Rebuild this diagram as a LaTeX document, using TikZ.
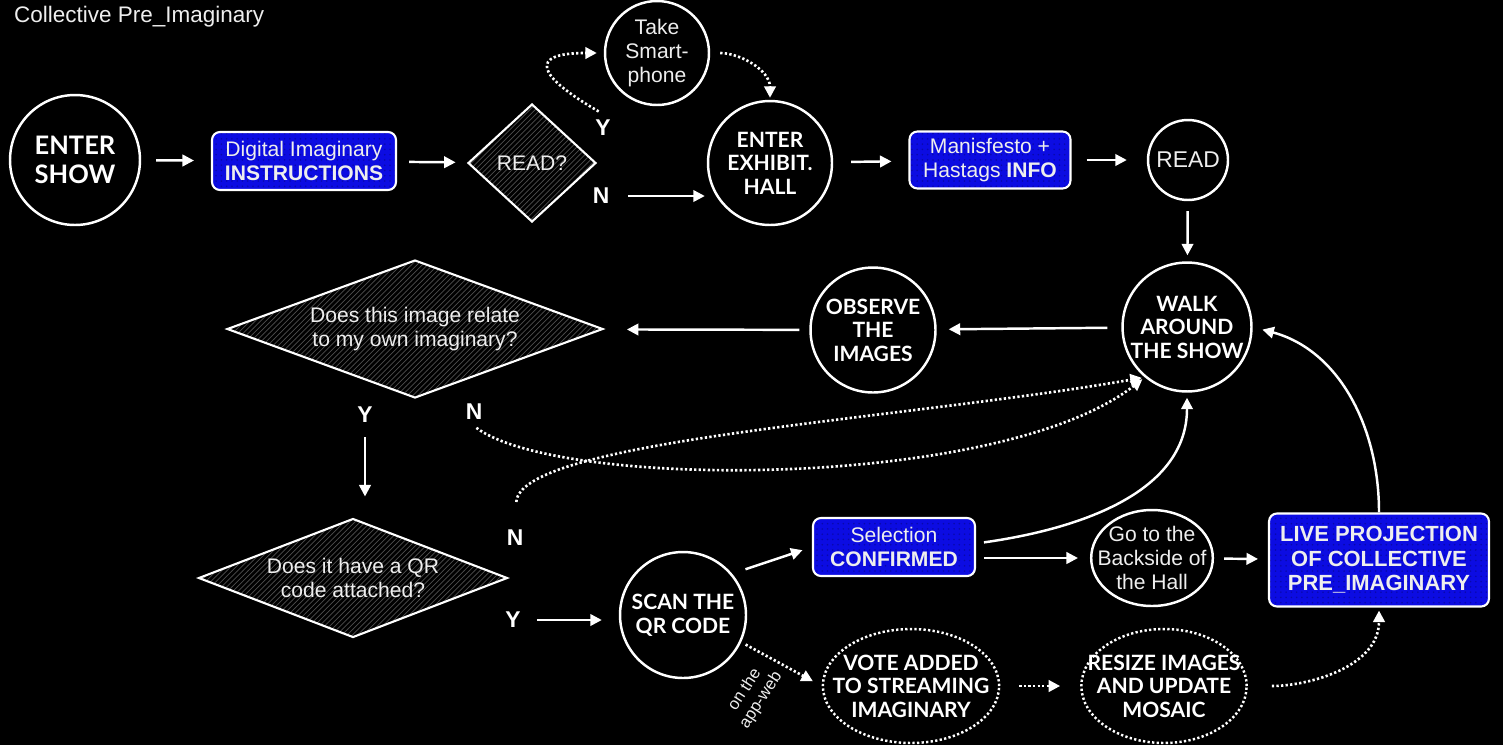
\documentclass[tikz,border=0pt]{standalone}
\usepackage{fontspec}
\setmainfont{Liberation Sans}
\newfontfamily\lato{Lato}
\usetikzlibrary{arrows.meta,positioning,calc,shapes.geometric,patterns}
\definecolor{boxblue}{RGB}{12,12,226}
\definecolor{txtw}{RGB}{238,238,238}
\definecolor{hatch}{RGB}{78,78,78}

\begin{document}
\begin{tikzpicture}[x=0.02cm,y=-0.02cm,
  st/.style={circle,draw=white,line width=1.4pt,minimum size=2.48cm,inner sep=0pt,
    align=center,text=white,font=\lato\bfseries\fontsize{12}{13.4}\selectfont},
  rg/.style={font=\fontsize{12}{13.6}\selectfont,text=txtw},
  bx/.style={rectangle,rounded corners=4.5pt,draw=white,line width=1.2pt,
    preaction={fill=boxblue},pattern=dots,pattern color=boxblue!75!black,
    align=center,text=txtw,inner sep=2pt,font=\fontsize{12}{13.6}\selectfont},
  dm/.style={diamond,draw=white,line width=1.2pt,pattern=north east lines,
    pattern color=hatch,inner sep=0pt,align=center,text=txtw,
    font=\fontsize{12}{13.6}\selectfont},
  dt/.style={ellipse,dash pattern=on 1.3pt off 1.3pt,inner ysep=0pt},
  ar/.style={-{Triangle[length=2.3mm,width=2.3mm]},white,line width=1.4pt},
  da/.style={-{Triangle[length=2.3mm,width=2.3mm]},white,line width=1.5pt,
    dash pattern=on 1.3pt off 1.3pt},
  yn/.style={font=\bfseries\fontsize{13}{15}\selectfont,text=white}]
  \useasboundingbox (0,0) rectangle (1503,745);
  \fill[black] (0,0) rectangle (1503,745);

  \node[anchor=west,font=\fontsize{12.8}{14}\selectfont,text=txtw] (title) at (8,17) {Collective Pre\_Imaginary};

  % top row
  \node[st,minimum size=2.6cm,font=\lato\bfseries\fontsize{14.5}{16.5}\selectfont] (enter) at (75,160) {ENTER\\SHOW};
  \node[bx,minimum width=3.68cm,minimum height=1.16cm] (instr) at (304,161) {Digital Imaginary\\\textbf{INSTRUCTIONS}};
  \node[dm,aspect=1.08,minimum width=2.56cm,minimum height=2.36cm] (readq) at (532,163) {READ?};
  \node[st,rg,minimum size=2.08cm] (phone) at (657,53) {Take\\Smart-\\phone};
  \node[st] (hall) at (770,163) {ENTER\\EXHIBIT.\\HALL};
  \node[bx,minimum width=3.22cm,minimum height=1.14cm] (info) at (990,160) {Manisfesto +\\Hastags \textbf{INFO}};
  \node[st,rg,minimum size=1.6cm,font=\fontsize{13}{15}\selectfont] (read) at (1188,160) {READ};
  \node[yn] (ly1) at (603,128) {Y};
  \node[yn] (ln1) at (601,196) {N};

  % middle row
  \node[st] (walk) at (1187,327) {WALK\\AROUND\\THE SHOW};
  \node[st,minimum size=2.5cm] (observe) at (873,330) {OBSERVE\\THE\\IMAGES};
  \node[dm,aspect=2.72,minimum width=7.52cm,minimum height=2.76cm] (relate) at (415,329) {Does this image relate\\to my own imaginary?};
  \node[yn] (ly2) at (365,415) {Y};
  \node[yn] (ln2) at (474,412) {N};

  % bottom rows
  \node[dm,aspect=2.6,minimum width=6.18cm,minimum height=2.38cm] (qr) at (353,578) {Does it have a QR\\code attached?};
  \node[yn] (ln3) at (515,538) {N};
  \node[yn] (ly3) at (513,620) {Y};
  \node[st,minimum size=2.52cm] (scan) at (683,615) {SCAN THE\\QR CODE};
  \node[bx,minimum width=3.24cm,minimum height=1.16cm] (confirm) at (894,547) {Selection\\\textbf{CONFIRMED}};
  \node[st,rg,ellipse,inner xsep=-0.23cm,inner ysep=0pt,minimum width=2.4cm,minimum height=1.92cm] (back) at (1152,558) {Go to the\\Backside of\\the Hall};
  \node[bx,font=\bfseries\fontsize{12.5}{14}\selectfont,minimum width=4.4cm,minimum height=1.86cm] (live) at (1379,560) {LIVE PROJECTION\\OF COLLECTIVE\\PRE\_IMAGINARY};
  \node[st,dt,inner xsep=-0.32cm,minimum width=3.52cm,minimum height=2.28cm] (vote) at (911,686) {VOTE ADDED\\TO STREAMING\\IMAGINARY};
  \node[st,dt,inner xsep=-0.36cm,minimum width=3.28cm,minimum height=2.28cm] (resize) at (1164,686) {RESIZE IMAGES\\AND UPDATE\\MOSAIC};
  \node[rotate=57,align=center,text=txtw,font=\fontsize{9.5}{11}\selectfont] (appweb) at (753,695) {on the\\app-web};

  % straight arrows
  \foreach \a/\b/\s/\e in {enter/instr/.30/.34, instr/readq/.24/.24, hall/info/.36/.34,
      info/read/.30/.40, read/walk/.20/.12, walk/observe/.28/.24,
      observe/relate/.20/.48, back/live/.20/.20}
    \draw[ar,shorten <=\s cm,shorten >=\e cm] (\a) -- (\b);
  \draw[ar,shorten <=.26cm,shorten >=.04cm] (ln1) -- (ln1 -| hall.west);
  \draw[ar,shorten <=.16cm,shorten >=.42cm] (ly2) -- (ly2 |- qr.north);
  \draw[ar,shorten <=.2cm,shorten >=.34cm] (ly3) -- (ly3 -| scan.west);
  \draw[ar,shorten <=.28cm,shorten >=.2cm] (scan.40) -- (confirm.west);
  \draw[ar,shorten <=.16cm,shorten >=.24cm] (confirm.east |- back.west) -- (back.west);

  % curved ones
  \draw[ar,shorten <=.16cm,shorten >=.1cm] ([yshift=2pt]confirm.east) to[out=8,in=-90] (walk.south);
  \draw[ar,shorten >=.2cm] (live.north) to[out=90,in=-15] (walk.east);
  \draw[da,shorten <=.1cm,shorten >=.14cm] (ly1.north) to[out=150,in=180,looseness=3.2] (phone.west);
  \draw[da,shorten <=.2cm,shorten >=.04cm] (phone.east) to[out=0,in=90] (hall.north);
  \draw[da,shorten <=.06cm,shorten >=.06cm] (ln2.south) .. controls (560,490) and (1000,490) .. (walk.-130);
  \draw[da,shorten <=.44cm,shorten >=.06cm] (ln3.north) .. controls (520,440) and (900,420) .. (walk.-130);
  \draw[da,shorten <=.1cm,shorten >=.2cm] (scan.-25) -- (vote.west);
  \draw[da,shorten <=.38cm,shorten >=.4cm] (vote) -- (resize);
  \draw[da,shorten <=.48cm,shorten >=.06cm] (resize.east) to[out=0,in=-90] (live.south);
\end{tikzpicture}
\end{document}
